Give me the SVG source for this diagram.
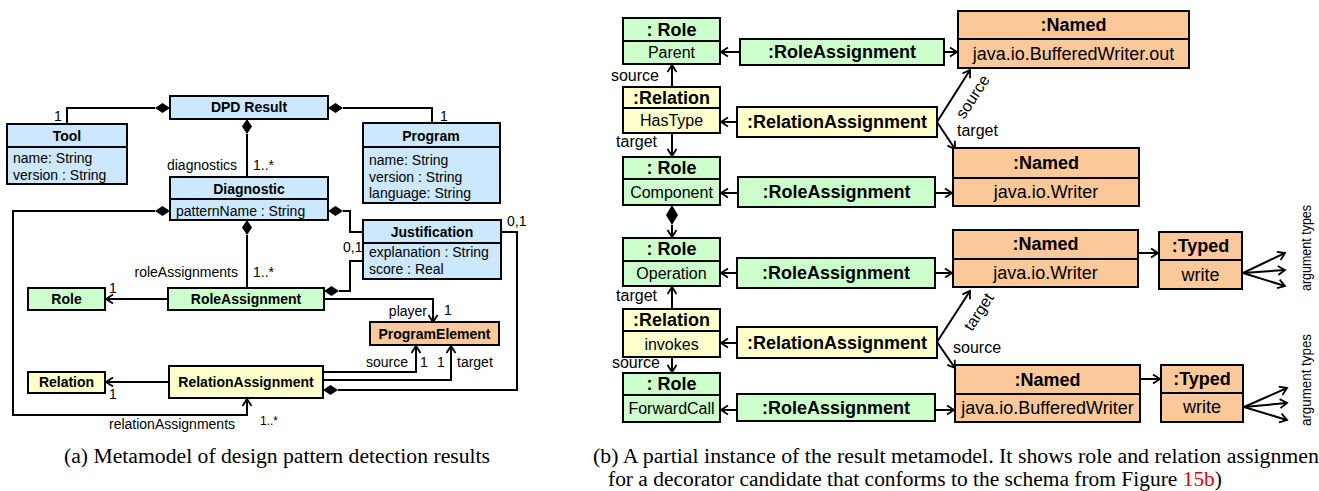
<svg xmlns="http://www.w3.org/2000/svg" width="1319" height="491" viewBox="0 0 1319 491">
<defs>
<marker id="arr" markerWidth="12" markerHeight="12" refX="10" refY="6" orient="auto" markerUnits="userSpaceOnUse"><path d="M3,1.5 L10,6 L3,10.5" fill="none" stroke="#000" stroke-width="1.8"/></marker>
<style>
.box{stroke:#000;stroke-width:2}
.blue{fill:#CCE8FF}.green{fill:#CCFFCC}.yellow{fill:#FFFFCC}.orange{fill:#FBC999}
.ln{fill:none;stroke:#000;stroke-width:2}
.dia{fill:#000;stroke:none}
text{font-family:"Liberation Sans",Arial,sans-serif;fill:#000}
.lb{font-size:14px;font-weight:bold;text-anchor:middle}
.l{font-size:14px}
.rb{font-size:18px;font-weight:bold;text-anchor:middle}
.rv{font-size:18px;text-anchor:middle}
.rs{font-size:16px;text-anchor:middle}
.r{font-size:16px}
.cap{font-family:"Liberation Serif","Times New Roman",serif;font-size:20px}
</style>
</defs>

<g id="connectors">
<!-- left diagram -->
<polyline class="ln" points="155,108 67,108 67,124"/>
<polygon class="dia" points="170,108 162.5,103 155,108 162.5,113"/>
<polyline class="ln" points="343,108 432,108 432,123"/>
<polygon class="dia" points="328,108 335.5,103 343,108 335.5,113"/>
<line class="ln" x1="247" y1="134" x2="247" y2="177"/>
<polygon class="dia" points="247,119 252,126.5 247,134 242,126.5"/>
<polyline class="ln" points="155,211 13,211 13,415 247,415 247,399" marker-end="url(#arr)"/>
<polygon class="dia" points="170,211 162.5,206 155,211 162.5,216"/>
<polyline class="ln" points="343,211 350,211 350,232 363,232"/>
<polygon class="dia" points="328,211 335.5,206 343,211 335.5,216"/>
<line class="ln" x1="247" y1="235" x2="247" y2="288"/>
<polygon class="dia" points="247,220 252,227.5 247,235 242,227.5"/>
<line class="ln" x1="168" y1="299" x2="106" y2="299" marker-end="url(#arr)"/>
<polyline class="ln" points="339,291 350,291 350,261 363,261"/>
<polygon class="dia" points="324,291 331.5,286 339,291 331.5,296"/>
<polyline class="ln" points="324,299 433,299 433,322" marker-end="url(#arr)"/>
<line class="ln" x1="169" y1="382" x2="106" y2="382" marker-end="url(#arr)"/>
<polyline class="ln" points="323,372 416,372 416,346" marker-end="url(#arr)"/>
<polyline class="ln" points="323,380 451,380 451,346" marker-end="url(#arr)"/>
<polyline class="ln" points="338,390 517,390 517,232 501,232"/>
<polygon class="dia" points="323,390 330.5,385 338,390 330.5,395"/>

<!-- right diagram -->
<line class="ln" x1="740" y1="52" x2="721" y2="52" marker-end="url(#arr)"/>
<line class="ln" x1="944" y1="52" x2="957" y2="52" marker-end="url(#arr)"/>
<line class="ln" x1="672" y1="87" x2="672" y2="65" marker-end="url(#arr)"/>
<line class="ln" x1="737" y1="122" x2="721" y2="122" marker-end="url(#arr)"/>
<line class="ln" x1="937" y1="122" x2="970" y2="70" marker-end="url(#arr)"/>
<line class="ln" x1="937" y1="122" x2="955" y2="149" marker-end="url(#arr)"/>
<line class="ln" x1="672" y1="133" x2="672" y2="156" marker-end="url(#arr)"/>
<line class="ln" x1="738" y1="193" x2="721" y2="193" marker-end="url(#arr)"/>
<line class="ln" x1="935" y1="193" x2="952" y2="193" marker-end="url(#arr)"/>
<polygon class="dia" points="672,205 678,215 672,225 666,215"/>
<line class="ln" x1="672" y1="225" x2="672" y2="237" marker-end="url(#arr)"/>
<line class="ln" x1="737" y1="273" x2="721" y2="273" marker-end="url(#arr)"/>
<line class="ln" x1="935" y1="273" x2="952" y2="273" marker-end="url(#arr)"/>
<line class="ln" x1="1138" y1="253" x2="1158" y2="253" marker-end="url(#arr)"/>
<line class="ln" x1="1243" y1="273" x2="1285" y2="253" marker-end="url(#arr)"/>
<line class="ln" x1="1243" y1="273" x2="1285" y2="270" marker-end="url(#arr)"/>
<line class="ln" x1="1243" y1="273" x2="1285" y2="286" marker-end="url(#arr)"/>
<line class="ln" x1="672" y1="309" x2="672" y2="287" marker-end="url(#arr)"/>
<line class="ln" x1="737" y1="343" x2="721" y2="343" marker-end="url(#arr)"/>
<line class="ln" x1="937" y1="342" x2="970" y2="291" marker-end="url(#arr)"/>
<line class="ln" x1="937" y1="342" x2="955" y2="368" marker-end="url(#arr)"/>
<line class="ln" x1="672" y1="357" x2="672" y2="372" marker-end="url(#arr)"/>
<line class="ln" x1="737" y1="410" x2="721" y2="410" marker-end="url(#arr)"/>
<line class="ln" x1="935" y1="410" x2="954" y2="410" marker-end="url(#arr)"/>
<line class="ln" x1="1140" y1="379" x2="1160" y2="379" marker-end="url(#arr)"/>
<line class="ln" x1="1244" y1="407" x2="1287" y2="388" marker-end="url(#arr)"/>
<line class="ln" x1="1244" y1="407" x2="1287" y2="403" marker-end="url(#arr)"/>
<line class="ln" x1="1244" y1="407" x2="1287" y2="420" marker-end="url(#arr)"/>
</g>

<g id="labels">
<text class="l" x="54" y="121">1</text>
<text class="l" x="440" y="121">1</text>
<text class="l" x="237" y="170" text-anchor="end">diagnostics</text>
<text class="l" x="253" y="170">1..*</text>
<text class="l" x="238" y="277" text-anchor="end">roleAssignments</text>
<text class="l" x="253" y="277">1..*</text>
<text class="l" x="343" y="252">0,1</text>
<text class="l" x="507" y="226">0,1</text>
<text class="l" x="109" y="293">1</text>
<text class="l" x="427" y="316" text-anchor="end">player</text>
<text class="l" x="444" y="315">1</text>
<text class="l" x="408" y="367" text-anchor="end">source</text>
<text class="l" x="420" y="367">1</text>
<text class="l" x="437" y="367">1</text>
<text class="l" x="457" y="367">target</text>
<text class="l" x="109" y="399">1</text>
<text class="l" x="172" y="429" text-anchor="middle">relationAssignments</text>
<text x="260" y="425" style="font-size:12px">1..*</text>

<text class="r" x="659" y="81" text-anchor="end">source</text>
<text class="r" x="657" y="147" text-anchor="end">target</text>
<text class="r" x="957" y="136">target</text>
<text class="r" transform="translate(973,97) rotate(-57)" text-anchor="middle" dy="5">source</text>
<text class="r" x="657" y="301" text-anchor="end">target</text>
<text class="r" x="660" y="368" text-anchor="end">source</text>
<text class="r" transform="translate(979,312) rotate(-57)" text-anchor="middle" dy="5">target</text>
<text class="r" x="953" y="353">source</text>
<text class="r" transform="translate(1311,248) rotate(-90)" text-anchor="middle" textLength="86" lengthAdjust="spacingAndGlyphs" style="font-size:15px">argument types</text>
<text class="r" transform="translate(1311,380) rotate(-90)" text-anchor="middle" textLength="92" lengthAdjust="spacingAndGlyphs" style="font-size:15px">argument types</text>
</g>

<!-- left nodes -->
<g id="dpd-result"><rect class="box blue" x="170" y="96" width="158" height="23"/><text class="lb" x="249" y="112">DPD Result</text></g>
<g id="tool"><rect class="box blue" x="7" y="124" width="120" height="60"/><line class="ln" x1="7" y1="147" x2="127" y2="147"/><text class="lb" x="67" y="141">Tool</text><text class="l" x="13" y="163">name: String</text><text class="l" x="13" y="180">version : String</text></g>
<g id="program"><rect class="box blue" x="363" y="123" width="137" height="80"/><line class="ln" x1="363" y1="147" x2="500" y2="147"/><text class="lb" x="431" y="141">Program</text><text class="l" x="369" y="165">name: String</text><text class="l" x="369" y="182">version : String</text><text class="l" x="369" y="198">language: String</text></g>
<g id="diagnostic"><rect class="box blue" x="170" y="177" width="158" height="43"/><line class="ln" x1="170" y1="199" x2="328" y2="199"/><text class="lb" x="249" y="194">Diagnostic</text><text class="l" x="176" y="216">patternName : String</text></g>
<g id="justification"><rect class="box blue" x="363" y="220" width="138" height="59"/><line class="ln" x1="363" y1="243" x2="501" y2="243"/><text class="lb" x="432" y="237">Justification</text><text class="l" x="369" y="257">explanation : String</text><text class="l" x="369" y="274">score : Real</text></g>
<g id="role"><rect class="box green" x="28" y="288" width="77" height="22"/><text class="lb" x="66.5" y="304">Role</text></g>
<g id="roleassignment"><rect class="box green" x="168" y="288" width="156" height="22"/><text class="lb" x="246" y="304">RoleAssignment</text></g>
<g id="programelement"><rect class="box orange" x="370" y="322" width="129" height="23"/><text class="lb" x="434.5" y="339">ProgramElement</text></g>
<g id="relation"><rect class="box yellow" x="28" y="372" width="77" height="21"/><text class="lb" x="66.5" y="387">Relation</text></g>
<g id="relationassignment"><rect class="box yellow" x="169" y="366" width="154" height="32"/><text class="lb" x="246" y="387">RelationAssignment</text></g>

<!-- right nodes -->
<g id="role-parent"><rect class="box green" x="623" y="18" width="97" height="46"/><line class="ln" x1="623" y1="41" x2="720" y2="41"/><text class="rb" x="671.5" y="36">: Role</text><text class="rs" x="671.5" y="58">Parent</text></g>
<g id="ra-parent"><rect class="box green" x="740" y="39" width="204" height="26"/><text class="rb" x="842" y="58">:RoleAssignment</text></g>
<g id="named-out"><rect class="box orange" x="958" y="11" width="231" height="57"/><line class="ln" x1="958" y1="39" x2="1189" y2="39"/><text class="rb" x="1073.5" y="31">:Named</text><text class="rv" x="1073.5" y="60">java.io.BufferedWriter.out</text></g>
<g id="relation-hastype"><rect class="box yellow" x="623" y="87" width="97" height="46"/><line class="ln" x1="623" y1="108" x2="720" y2="108"/><text class="rb" x="671.5" y="104">:Relation</text><text class="rs" x="671.5" y="126">HasType</text></g>
<g id="rela-hastype"><rect class="box yellow" x="737" y="107" width="200" height="30"/><text class="rb" x="837" y="128">:RelationAssignment</text></g>
<g id="role-component"><rect class="box green" x="623" y="157" width="97" height="48"/><line class="ln" x1="623" y1="179" x2="720" y2="179"/><text class="rb" x="671.5" y="174">: Role</text><text class="rs" x="671.5" y="198">Component</text></g>
<g id="ra-component"><rect class="box green" x="738" y="177" width="197" height="30"/><text class="rb" x="836.5" y="198">:RoleAssignment</text></g>
<g id="named-writer1"><rect class="box orange" x="953" y="148" width="186" height="58"/><line class="ln" x1="953" y1="178" x2="1139" y2="178"/><text class="rb" x="1046" y="169">:Named</text><text class="rv" x="1046" y="198">java.io.Writer</text></g>
<g id="role-operation"><rect class="box green" x="623" y="238" width="97" height="48"/><line class="ln" x1="623" y1="261" x2="720" y2="261"/><text class="rb" x="671.5" y="255">: Role</text><text class="rs" x="671.5" y="279">Operation</text></g>
<g id="ra-operation"><rect class="box green" x="737" y="258" width="198" height="30"/><text class="rb" x="836" y="279">:RoleAssignment</text></g>
<g id="named-writer2"><rect class="box orange" x="953" y="230" width="185" height="57"/><line class="ln" x1="953" y1="259" x2="1138" y2="259"/><text class="rb" x="1045.5" y="250">:Named</text><text class="rv" x="1045.5" y="279">java.io.Writer</text></g>
<g id="typed-write1"><rect class="box orange" x="1159" y="232" width="83" height="57"/><line class="ln" x1="1159" y1="260" x2="1242" y2="260"/><text class="rb" x="1200.5" y="252">:Typed</text><text class="rv" x="1200.5" y="281">write</text></g>
<g id="relation-invokes"><rect class="box yellow" x="623" y="309" width="97" height="48"/><line class="ln" x1="623" y1="331" x2="720" y2="331"/><text class="rb" x="671.5" y="326">:Relation</text><text class="rs" x="671.5" y="350">invokes</text></g>
<g id="rela-invokes"><rect class="box yellow" x="737" y="327" width="200" height="31"/><text class="rb" x="837" y="349">:RelationAssignment</text></g>
<g id="role-forwardcall"><rect class="box green" x="623" y="373" width="97" height="49"/><line class="ln" x1="623" y1="395" x2="720" y2="395"/><text class="rb" x="671.5" y="390">: Role</text><text class="rs" x="671.5" y="414">ForwardCall</text></g>
<g id="ra-forwardcall"><rect class="box green" x="737" y="394" width="198" height="27"/><text class="rb" x="836" y="414">:RoleAssignment</text></g>
<g id="named-bufferedwriter"><rect class="box orange" x="955" y="365" width="185" height="57"/><line class="ln" x1="955" y1="394" x2="1140" y2="394"/><text class="rb" x="1047.5" y="386">:Named</text><text class="rv" x="1047.5" y="414">java.io.BufferedWriter</text></g>
<g id="typed-write2"><rect class="box orange" x="1161" y="365" width="82" height="57"/><line class="ln" x1="1161" y1="393" x2="1243" y2="393"/><text class="rb" x="1202" y="385">:Typed</text><text class="rv" x="1202" y="413">write</text></g>

<g id="captions">
<text class="cap" x="64" y="463" textLength="426" lengthAdjust="spacingAndGlyphs">(a) Metamodel of design pattern detection results</text>
<text class="cap" x="593" y="463" textLength="726" lengthAdjust="spacingAndGlyphs">(b) A partial instance of the result metamodel. It shows role and relation assignmen</text>
<text class="cap" x="608" y="486" textLength="614" lengthAdjust="spacingAndGlyphs">for a decorator candidate that conforms to the schema from Figure <tspan fill="#E00000">15b</tspan>)</text>
</g>
</svg>
